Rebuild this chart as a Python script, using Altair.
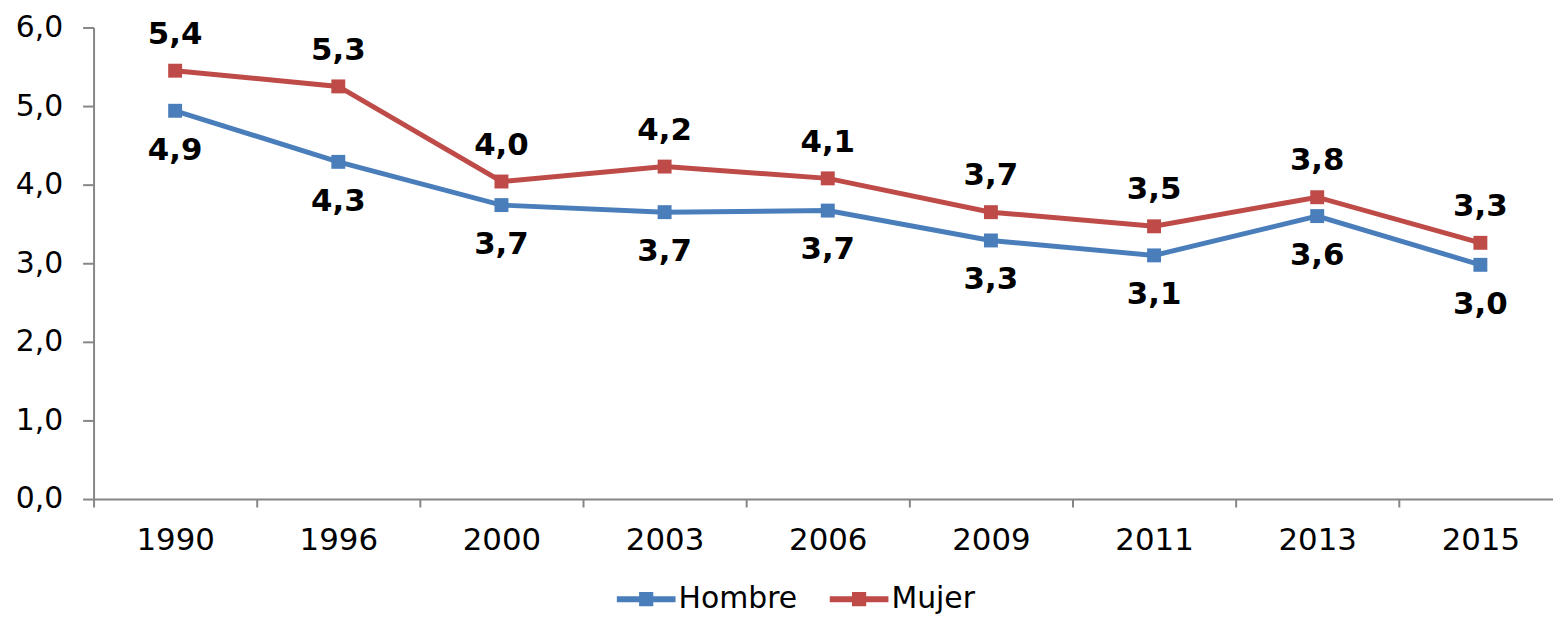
import altair as alt
import pandas as pd

years = ["1990", "1996", "2000", "2003", "2006", "2009", "2011", "2013", "2015"]
hombre = [4.94, 4.29, 3.74, 3.65, 3.67, 3.29, 3.10, 3.60, 2.98]
mujer = [5.45, 5.25, 4.04, 4.23, 4.08, 3.65, 3.47, 3.84, 3.26]
hombre_labels = ["4,9", "4,3", "3,7", "3,7", "3,7", "3,3", "3,1", "3,6", "3,0"]
mujer_labels = ["5,4", "5,3", "4,0", "4,2", "4,1", "3,7", "3,5", "3,8", "3,3"]
series = ["Hombre", "Mujer"]
colors = ["#4A7EBB", "#BE4B48"]
y_ticks = [0, 1, 2, 3, 4, 5, 6]

rows = []
for yr, v, lab in zip(years, hombre, hombre_labels):
    rows.append({"Año": yr, "Sexo": "Hombre", "Valor": v, "Etiqueta": lab})
for yr, v, lab in zip(years, mujer, mujer_labels):
    rows.append({"Año": yr, "Sexo": "Mujer", "Valor": v, "Etiqueta": lab})
df = pd.DataFrame(rows)

FONT = "DejaVu Sans"
GRAY = "#868686"

x_enc = alt.X(
    "Año:N",
    sort=years,
    bandPosition=0.5,
    scale=alt.Scale(type="band", paddingInner=0, paddingOuter=0, range=[0, 1476]),
    axis=alt.Axis(
        title=None, labelAngle=0, tickBand="extent", tickSize=8, tickWidth=2,
        tickColor=GRAY, domainColor=GRAY, domainWidth=2, labelFontSize=31,
        labelFont=FONT, labelColor="black", labelPadding=19, grid=False,
    ),
)
y_enc = alt.Y(
    "Valor:Q",
    scale=alt.Scale(domain=[0, 6], nice=False, zero=True),
    axis=alt.Axis(
        title=None, values=y_ticks, grid=False, tickSize=11, tickWidth=2,
        tickColor=GRAY, domainColor=GRAY, domainWidth=2, labelFontSize=30,
        labelFont=FONT, labelColor="black", labelPadding=20,
        labelExpr="replace(format(datum.value, '.1f'), '.', ',')",
    ),
)

legend = alt.Legend(
    title=None, orient="none", legendX=523, legendY=542, direction="horizontal",
    symbolType="M-1,0H1M-0.14,-0.14H0.14V0.14H-0.14Z", symbolSize=3481,
    symbolStrokeWidth=6, labelFontSize=30, labelFont=FONT, labelColor="black",
    labelOffset=0, columnPadding=20,
)
color_scale = alt.Scale(domain=series, range=colors)

base = alt.Chart(df)

lines = base.mark_line(strokeWidth=5).encode(
    x=x_enc, y=y_enc,
    stroke=alt.Stroke("Sexo:N", scale=color_scale, legend=legend),
)
points = base.mark_point(shape="square", filled=True, size=196, strokeWidth=0, opacity=1).encode(
    x=x_enc, y=y_enc,
    fill=alt.Fill("Sexo:N", scale=color_scale, legend=legend),
    stroke=alt.Stroke("Sexo:N", scale=color_scale, legend=legend),
)
text_m = base.transform_filter(alt.datum.Sexo == "Mujer").mark_text(
    dy=-36, fontSize=31, fontWeight="bold", font=FONT, color="black", baseline="middle"
).encode(x=x_enc, y=y_enc, text="Etiqueta:N")
text_h = base.transform_filter(alt.datum.Sexo == "Hombre").mark_text(
    dy=40, fontSize=31, fontWeight="bold", font=FONT, color="black", baseline="middle"
).encode(x=x_enc, y=y_enc, text="Etiqueta:N")

chart = alt.layer(lines, points, text_m, text_h).properties(
    width=1467, height=474,
    autosize=alt.AutoSizeParams(type="none"),
    padding={"left": 86, "top": 18, "right": 0, "bottom": 114},
).configure_view(stroke=None)

chart.save("out.html", embed_options={"renderer": "svg", "actions": False})
